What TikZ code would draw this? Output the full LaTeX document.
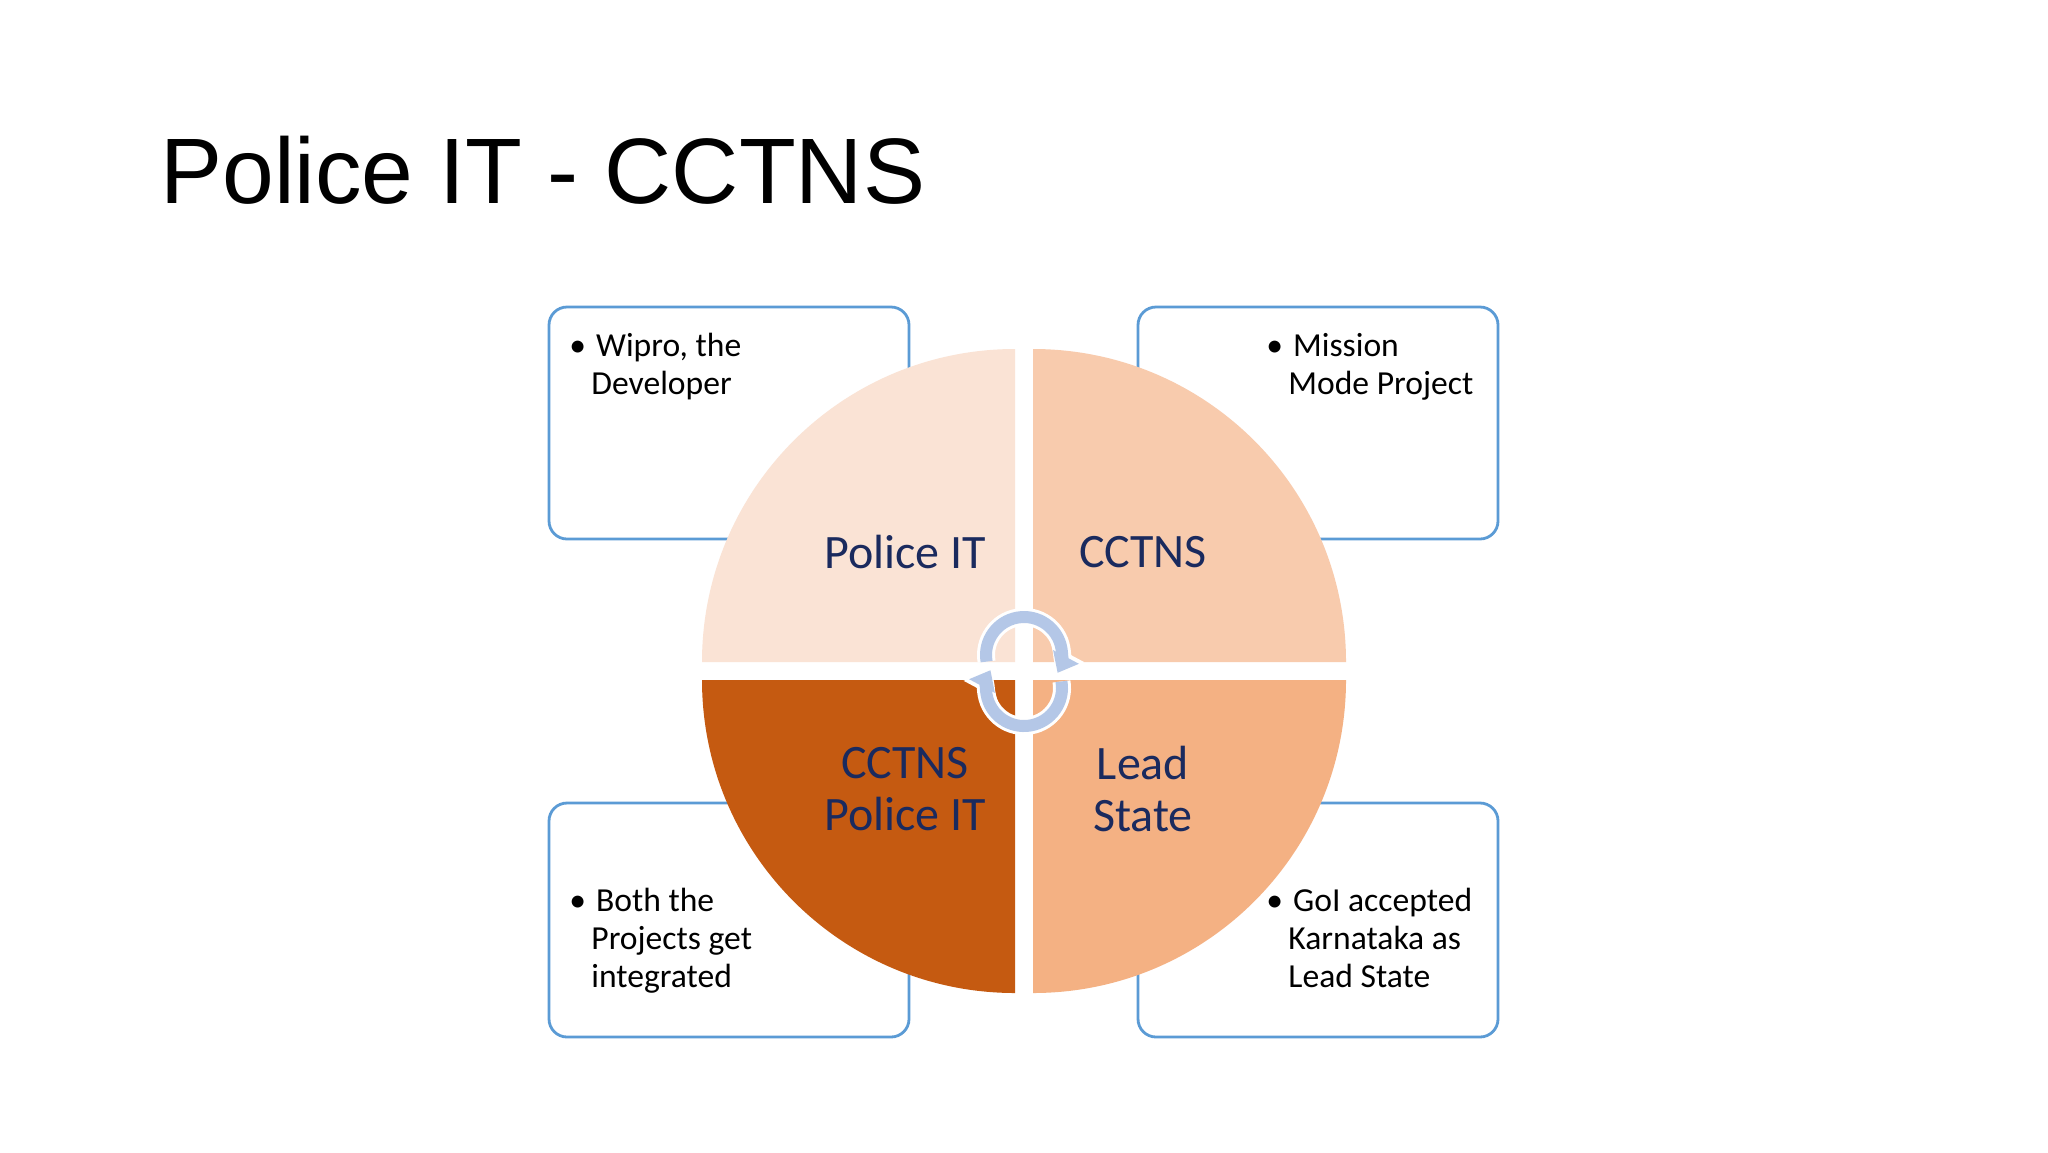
\documentclass[tikz,border=0pt]{standalone}
\usepackage{fontspec}
\setmainfont{Carlito}
\newfontfamily\titlefont{Liberation Sans}
\usetikzlibrary{arrows.meta}
\definecolor{qa}{HTML}{FAE3D5}
\definecolor{qb}{HTML}{F8CBAD}
\definecolor{qc}{HTML}{C55A11}
\definecolor{qd}{HTML}{F4B183}
\definecolor{bx}{HTML}{5B9BD5}
\definecolor{navy}{HTML}{1A2A5E}
\definecolor{arr}{HTML}{B4C7E7}
\tikzset{
  infobox/.style={draw=bx,line width=1.4pt,rounded corners=9pt,fill=white},
  btext/.style={font=\fontsize{16.8}{19}\selectfont,align=left,anchor=north west,inner sep=0pt,text=black},
  qlabel/.style={font=\fontsize{24}{26}\selectfont,text=navy,align=center},
  cyc/.style={arr,line width=6pt,-{Triangle[length=9pt,width=14pt]},preaction={draw=white,line width=9pt,-{Triangle[length=11pt,width=18pt]}}}
}
\begin{document}
\begin{tikzpicture}[x=0.5pt,y=-0.5pt]
\useasboundingbox (0,0) rectangle (2048,1152);
\fill[white] (0,0) rectangle (2048,1152);
\node[anchor=west,font=\titlefont\fontsize{46.5}{52}\selectfont,inner sep=0pt] (title) at (160,170) {Police IT - CCTNS};
% boxes
\draw[infobox] (549,307) rectangle (909,539) coordinate (b1);
\draw[infobox] (1138,307) rectangle (1498,539) coordinate (b2);
\draw[infobox] (549,803) rectangle (909,1037) coordinate (b3);
\draw[infobox] (1138,803) rectangle (1498,1037) coordinate (b4);
% quadrants
\fill[qa] (1015,662) -- (702,662) arc[start angle=180,end angle=270,radius=313] -- cycle;
\fill[qb] (1033,662) -- (1033,349) arc[start angle=270,end angle=360,radius=313] -- cycle;
\fill[qc] (1015,680) -- (1015,993) arc[start angle=90,end angle=180,radius=313] -- cycle;
\fill[qd] (1033,680) -- (1346,680) arc[start angle=0,end angle=90,radius=313] -- cycle;
% labels
\node[qlabel] (l1) at (905,552) {Police IT};
\node[qlabel] (l2) at (1143,552) {CCTNS};
\node[qlabel] (l3) at (905,789) {CCTNS\\Police IT};
\node[qlabel] (l4) at (1143,789) {Lead\\State};
% box texts
\node[btext] (t1) at (569,333) {\textbullet\hspace{5pt}Wipro, the\\\hspace{11pt}Developer};
\node[btext] (t2) at (1266,333) {\textbullet\hspace{5pt}Mission\\\hspace{11pt}Mode Project};
\node[btext] (t3) at (569,888) {\textbullet\hspace{5pt}Both the\\\hspace{11pt}Projects get\\\hspace{11pt}integrated};
\node[btext] (t4) at (1266,888) {\textbullet\hspace{5pt}GoI accepted\\\hspace{11pt}Karnataka as\\\hspace{11pt}Lead State};
% cycle arrows
\coordinate (ca) at (1024,655);
\coordinate (cb) at (1024,688);
\draw[cyc] ([shift={(190:19pt)}]ca) arc[start angle=190,end angle=-28,radius=19pt];
\draw[cyc] ([shift={(10:19pt)}]cb) arc[start angle=10,end angle=-208,radius=19pt];
\end{tikzpicture}
\end{document}
